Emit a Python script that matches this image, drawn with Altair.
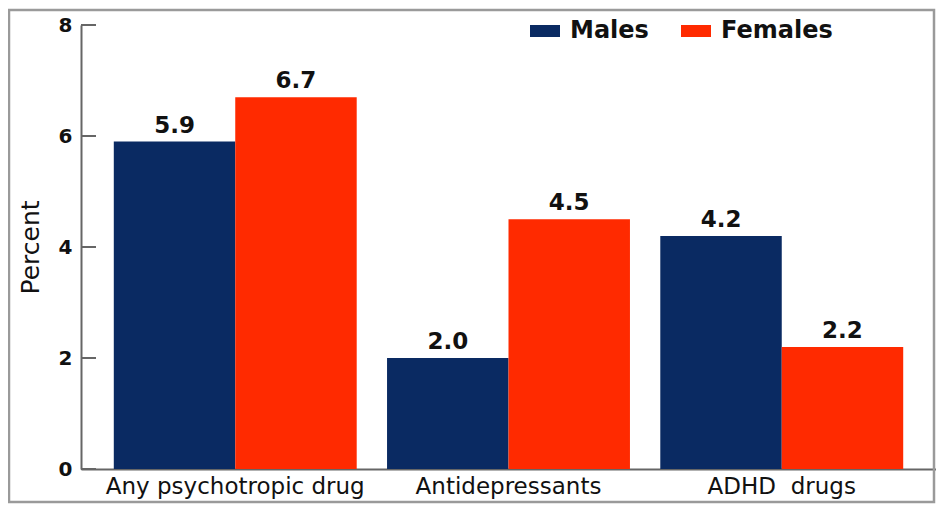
import altair as alt
import pandas as pd

categories = ["Any psychotropic drug", "Antidepressants", "ADHD\u00a0 drugs"]
groups = ["Males", "Females"]
males = [5.9, 2.0, 4.2]
females = [6.7, 4.5, 2.2]
y_ticks = [0, 2, 4, 6, 8]
colors = ["#0a2a62", "#ff2a00"]

rows = []
for c, m, f in zip(categories, males, females):
    rows.append({"cat": c, "sex": "Males", "v": m, "lbl": f"{m:.1f}"})
    rows.append({"cat": c, "sex": "Females", "v": f, "lbl": f"{f:.1f}"})
df = pd.DataFrame(rows)
ticks_df = pd.DataFrame({"t": y_ticks})
frame_df = pd.DataFrame({"k": [0]})

FONT = "DejaVu Sans"

x_enc = alt.X(
    "cat:N",
    sort=categories,
    scale=alt.Scale(paddingInner=0.111, paddingOuter=0.12),
    axis=alt.Axis(
        title=None, labelAngle=0, ticks=False, labelPadding=6, labelLimit=0,
        labelFont=FONT, labelFontSize=23, labelColor="#111",
        domainColor="#666", domainWidth=2,
    ),
)
y_scale = alt.Scale(domain=[0, 8], nice=False)
xoff = alt.XOffset("sex:N", sort=groups, scale=alt.Scale(paddingInner=0, paddingOuter=0))

bars = alt.Chart(df).mark_bar().encode(
    x=x_enc,
    xOffset=xoff,
    y=alt.Y(
        "v:Q", scale=y_scale,
        axis=alt.Axis(
            values=y_ticks, format="d", grid=False, ticks=False, tickSize=0, labelPadding=9,
            labelFont=FONT, labelFontSize=20, labelFontWeight="bold", labelColor="#111",
            domainColor="#666", domainWidth=2,
            title="Percent", titleFont=FONT, titleFontSize=25, titleFontWeight="normal",
            titleColor="#111", titleX=-38, titleY=222, titleAngle=270,
        ),
    ),
    color=alt.Color(
        "sex:N", sort=groups,
        scale=alt.Scale(domain=groups, range=colors),
        legend=alt.Legend(
            title=None, orient="none", direction="horizontal",
            legendX=449, legendY=-9, padding=0,
            symbolType="M-1,-0.4H1V0.4H-1Z", symbolSize=900,
            symbolStrokeWidth=0, symbolOpacity=1,
            labelFont=FONT, labelFontSize=24, labelFontWeight="bold", labelColor="#111",
            labelOffset=10, columnPadding=32,
        ),
    ),
)

labels = alt.Chart(df).mark_text(
    font=FONT, fontSize=23, fontWeight="bold", color="#111",
    baseline="alphabetic", dy=-9,
).encode(
    x=alt.X("cat:N", sort=categories),
    xOffset=xoff,
    y=alt.Y("v:Q", scale=y_scale),
    text="lbl:N",
)

tick_rules = alt.Chart(ticks_df).mark_rule(color="#666", strokeWidth=2).encode(
    y=alt.Y("t:Q", scale=y_scale),
    x=alt.value(0),
    x2=alt.value(15),
)

frame = alt.Chart(frame_df).mark_rect(
    fill="transparent", stroke="#9a9a9a", strokeWidth=2.5
).encode(
    x=alt.value(-72), x2=alt.value(853), y=alt.value(-15), y2=alt.value(477)
)

chart = alt.layer(frame, bars, labels, tick_rules).properties(
    width=855, height=444,
    background="white",
    autosize=alt.AutoSizeParams(type="none"),
    padding={"left": 73, "top": 17, "right": 0, "bottom": 35},
).configure_view(stroke=None, strokeWidth=0)

chart.save("out.html", embed_options={"renderer": "svg", "actions": False})
